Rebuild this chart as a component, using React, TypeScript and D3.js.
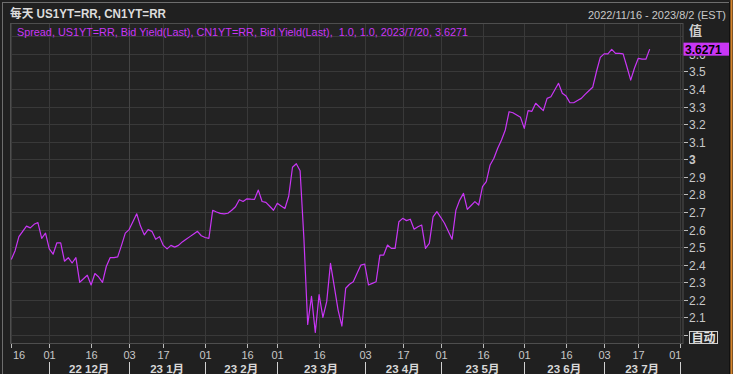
import React from 'react';
import * as d3 from 'd3';

// ---- data ----
const START_DATE = '2022-11-16';
const END_DATE = '2023-08-02';
const usHolidays = ['2022-11-24', '2022-12-26', '2023-01-02', '2023-01-16', '2023-02-20', '2023-05-29', '2023-06-19', '2023-07-04'];

// Spread (US1YT - CN1YT), one value per trading day from 2022-11-16 to 2023-07-20
const spreadValues = [
  2.43, 2.48, 2.56, 2.59, 2.62, 2.61, 2.63, 2.64, 2.55, 2.58,
  2.49, 2.46, 2.525, 2.525, 2.42, 2.44, 2.41, 2.44, 2.30, 2.32,
  2.34, 2.285, 2.35, 2.33, 2.30, 2.39, 2.44, 2.44, 2.445, 2.51,
  2.58, 2.60, 2.645, 2.69, 2.62, 2.57, 2.60, 2.59, 2.545, 2.56,
  2.51, 2.49, 2.51, 2.50, 2.51, 2.53, 2.545, 2.56, 2.575, 2.59,
  2.565, 2.555, 2.55, 2.71, 2.70, 2.692, 2.69, 2.693, 2.71, 2.73,
  2.77, 2.76, 2.775, 2.773, 2.772, 2.825, 2.76, 2.755, 2.733, 2.71,
  2.75, 2.735, 2.72, 2.79, 2.955, 2.975, 2.935, 2.55, 2.06, 2.22,
  2.015, 2.23, 2.10, 2.19, 2.408, 2.275, 2.142, 2.051, 2.266, 2.289,
  2.303, 2.351, 2.398, 2.404, 2.285, 2.294, 2.303, 2.455, 2.455, 2.512,
  2.493, 2.493, 2.645, 2.664, 2.651, 2.659, 2.602, 2.616, 2.626, 2.493,
  2.522, 2.673, 2.702, 2.67, 2.636, 2.59, 2.545, 2.711, 2.768, 2.806,
  2.715, 2.737, 2.759, 2.74, 2.844, 2.873, 2.968, 3.006, 3.063, 3.11,
  3.167, 3.271, 3.265, 3.252, 3.239, 3.176, 3.277, 3.273, 3.319, 3.298,
  3.277, 3.347, 3.356, 3.395, 3.433, 3.376, 3.36, 3.322, 3.322, 3.335,
  3.347, 3.37, 3.39, 3.41, 3.50, 3.58, 3.60, 3.60, 3.626, 3.603,
  3.603, 3.60, 3.527, 3.451, 3.52, 3.575, 3.57, 3.57, 3.6271,
];

const tickDates = [
  '2022-11-16', '2022-12-01', '2022-12-16', '2023-01-03', '2023-01-17', '2023-02-01',
  '2023-02-16', '2023-03-01', '2023-03-16', '2023-04-03', '2023-04-17', '2023-05-01',
  '2023-05-16', '2023-06-01', '2023-06-16', '2023-07-03', '2023-07-17', '2023-08-01',
];
const monthStarts = ['2022-12-01', '2023-01-03', '2023-02-01', '2023-03-01', '2023-04-03', '2023-05-01', '2023-06-01', '2023-07-03', '2023-08-01'];
const monthLabels = ['22 12月', '23 1月', '23 2月', '23 3月', '23 4月', '23 5月', '23 6月', '23 7月'];
const yTicks = [2.1, 2.2, 2.3, 2.4, 2.5, 2.6, 2.7, 2.8, 2.9, 3.0, 3.1, 3.2, 3.3, 3.4, 3.5, 3.6];
const yGrid = [2.0, 2.1, 2.2, 2.3, 2.4, 2.5, 2.6, 2.7, 2.8, 2.9, 3.0, 3.1, 3.2, 3.3, 3.4, 3.5, 3.6, 3.7];

const titleText = '每天 US1YT=RR, CN1YT=RR';
const rangeText = '2022/11/16 - 2023/8/2 (EST)';
const legendText = 'Spread, US1YT=RR, Bid Yield(Last), CN1YT=RR, Bid Yield(Last),  1.0, 1.0, 2023/7/20, 3.6271';
const lastValueText = '3.6271';

function tradingDays(start: string, end: string, holidays: string[]): string[] {
  const fmt = d3.utcFormat('%Y-%m-%d');
  const out: string[] = [];
  const s = new Date(start + 'T00:00:00Z');
  const e = new Date(end + 'T00:00:00Z');
  for (let d = s; d <= e; d = d3.utcDay.offset(d, 1)) {
    const wd = d.getUTCDay();
    const k = fmt(d);
    if (wd !== 0 && wd !== 6 && !holidays.includes(k)) out.push(k);
  }
  return out;
}

const W = 733;
const H = 374;
const PL = 10.5, PR = 683, PT = 23.5, PB = 343.5;
const FONT = '"Liberation Sans", Arial, "Noto Sans CJK SC", sans-serif';
const MAGENTA = '#c936f5';

export default function App() {
  const days = tradingDays(START_DATE, END_DATE, usHolidays);
  const x = d3.scalePoint<string>().domain(days).range([11.3, 11.3 + (days.length - 1) * 3.8]);
  const y = d3.scaleLinear().domain([1.9545, 3.776]).range([343, 23]);
  const data = spreadValues.map((v, i) => ({ d: days[i], v }));
  const line = d3.line<{ d: string; v: number }>().x((p) => x(p.d) as number).y((p) => y(p.v));
  const fmtDay = d3.utcFormat('%d');
  const lastY = y(spreadValues[spreadValues.length - 1]);

  return (
    <svg width={W} height={H} style={{ position: 'absolute', left: 0, top: 0, display: 'block' }} fontFamily={FONT}>
      <defs>
        <clipPath id="below-box">
          <rect x={683} y={lastY + 6.5} width={50} height={20} />
        </clipPath>
      </defs>
      <rect x={0} y={0} width={W} height={H} fill="#202020" />
      {/* outer borders */}
      <line x1={2.5} y1={2} x2={2.5} y2={H} stroke="#6e6e6e" />
      <line x1={2} y1={2.5} x2={729} y2={2.5} stroke="#6e6e6e" />
      <line x1={729.5} y1={2} x2={729.5} y2={H} stroke="#111" />
      <line x1={731.5} y1={0} x2={731.5} y2={H} stroke="#d9862c" strokeWidth={2} />

      {/* header */}
      <text x={10} y={18} fontSize={12} fontWeight="bold" fill="#dcdcdc" textLength={156} lengthAdjust="spacingAndGlyphs" fontFamily='"Liberation Sans", "Noto Sans CJK SC", sans-serif'>{titleText}</text>
      <text x={588} y={18.5} fontSize={11.5} fill="#c8c8c8" textLength={138} lengthAdjust="spacingAndGlyphs">{rangeText}</text>

      {/* plot area */}
      <rect x={PL} y={PT} width={PR - PL} height={PB - PT} fill="#232323" />
      {yGrid.map((v) => (
        <line key={'gy' + v} x1={PL} x2={PR} y1={Math.round(y(v)) + 0.5} y2={Math.round(y(v)) + 0.5} stroke="#393939" />
      ))}
      {tickDates.map((d) => {
        const xx = Math.round(x(d) as number) + 0.5;
        return <line key={'gx' + d} x1={xx} x2={xx} y1={PT} y2={PB} stroke={d === '2023-01-03' ? '#444' : '#393939'} />;
      })}
      <rect x={PL} y={PT} width={PR - PL} height={PB - PT} fill="none" stroke="#4e4e4e" />

      <path d={line(data) || ''} fill="none" stroke={MAGENTA} strokeWidth={1.2} strokeLinejoin="round" />

      <text x={17} y={36} fontSize={11.5} fill={MAGENTA} textLength={451} lengthAdjust="spacingAndGlyphs" style={{ whiteSpace: 'pre' }}>{legendText}</text>

      {/* y axis */}
      <text x={689} y={35} fontSize={13} fontWeight="bold" fill="#cfcfcf" fontFamily='"Noto Sans CJK SC", sans-serif'>值</text>
      {yTicks.map((v) => {
        const yy = Math.round(y(v)) + 0.5;
        const hidden = Math.abs(y(v) - lastY) < 8;
        return (
          <g key={'yt' + v}>
            <line x1={684} x2={688} y1={yy} y2={yy} stroke="#bdbdbd" />
            <text x={689} y={yy + 4.5} fontSize={12} fill="#c8c8c8" fontWeight={v === 3.0 ? 'bold' : 'normal'} clipPath={hidden ? 'url(#below-box)' : undefined}>{v === 3.0 ? '3' : d3.format('.1f')(v)}</text>
          </g>
        );
      })}
      {/* last value marker */}
      <rect x={683.5} y={lastY - 6.5} width={45.5} height={13} fill={MAGENTA} />
      <text x={685} y={lastY + 4.5} fontSize={12} fontWeight="bold" fill="#000">{lastValueText}</text>
      {/* auto box */}
      <line x1={684} x2={688} y1={Math.round(y(2.0)) + 0.5} y2={Math.round(y(2.0)) + 0.5} stroke="#bdbdbd" />
      <rect x={689.5} y={331.5} width={28} height={12} fill="#202020" stroke="#d0d0d0" />
      <text x={703.5} y={342} fontSize={12} fontWeight="bold" fill="#e0e0e0" textAnchor="middle" fontFamily='"Noto Sans CJK SC", sans-serif'>自动</text>

      {/* x axis */}
      {tickDates.map((d, i) => {
        const xx = Math.round(x(d) as number) + 0.5;
        let lx = xx;
        let anchor: 'middle' | 'start' | 'end' = 'middle';
        if (i === 0) { lx = 13; anchor = 'start'; }
        if (i === tickDates.length - 1) { lx = 681.5; anchor = 'end'; }
        return (
          <g key={'xt' + d}>
            <line x1={xx} x2={xx} y1={344} y2={348} stroke="#bdbdbd" />
            <text x={lx} y={358.5} fontSize={11} fill="#c8c8c8" textAnchor={anchor}>{fmtDay(new Date(d + 'T00:00:00Z'))}</text>
          </g>
        );
      })}
      {monthStarts.map((d) => {
        const xx = Math.round(x(d) as number) + 0.5;
        return <line key={'ms' + d} x1={xx} x2={xx} y1={362} y2={374} stroke="#d0d0d0" />;
      })}
      {monthLabels.map((m, i) => {
        const cx = ((x(monthStarts[i]) as number) + (x(monthStarts[i + 1]) as number)) / 2;
        return (
          <text key={'ml' + m} x={cx} y={372.5} fontSize={11.5} fontWeight="bold" fill="#d8d8d8" textAnchor="middle" fontFamily='"Liberation Sans", "Noto Sans CJK SC", sans-serif'>{m}</text>
        );
      })}
    </svg>
  );
}
